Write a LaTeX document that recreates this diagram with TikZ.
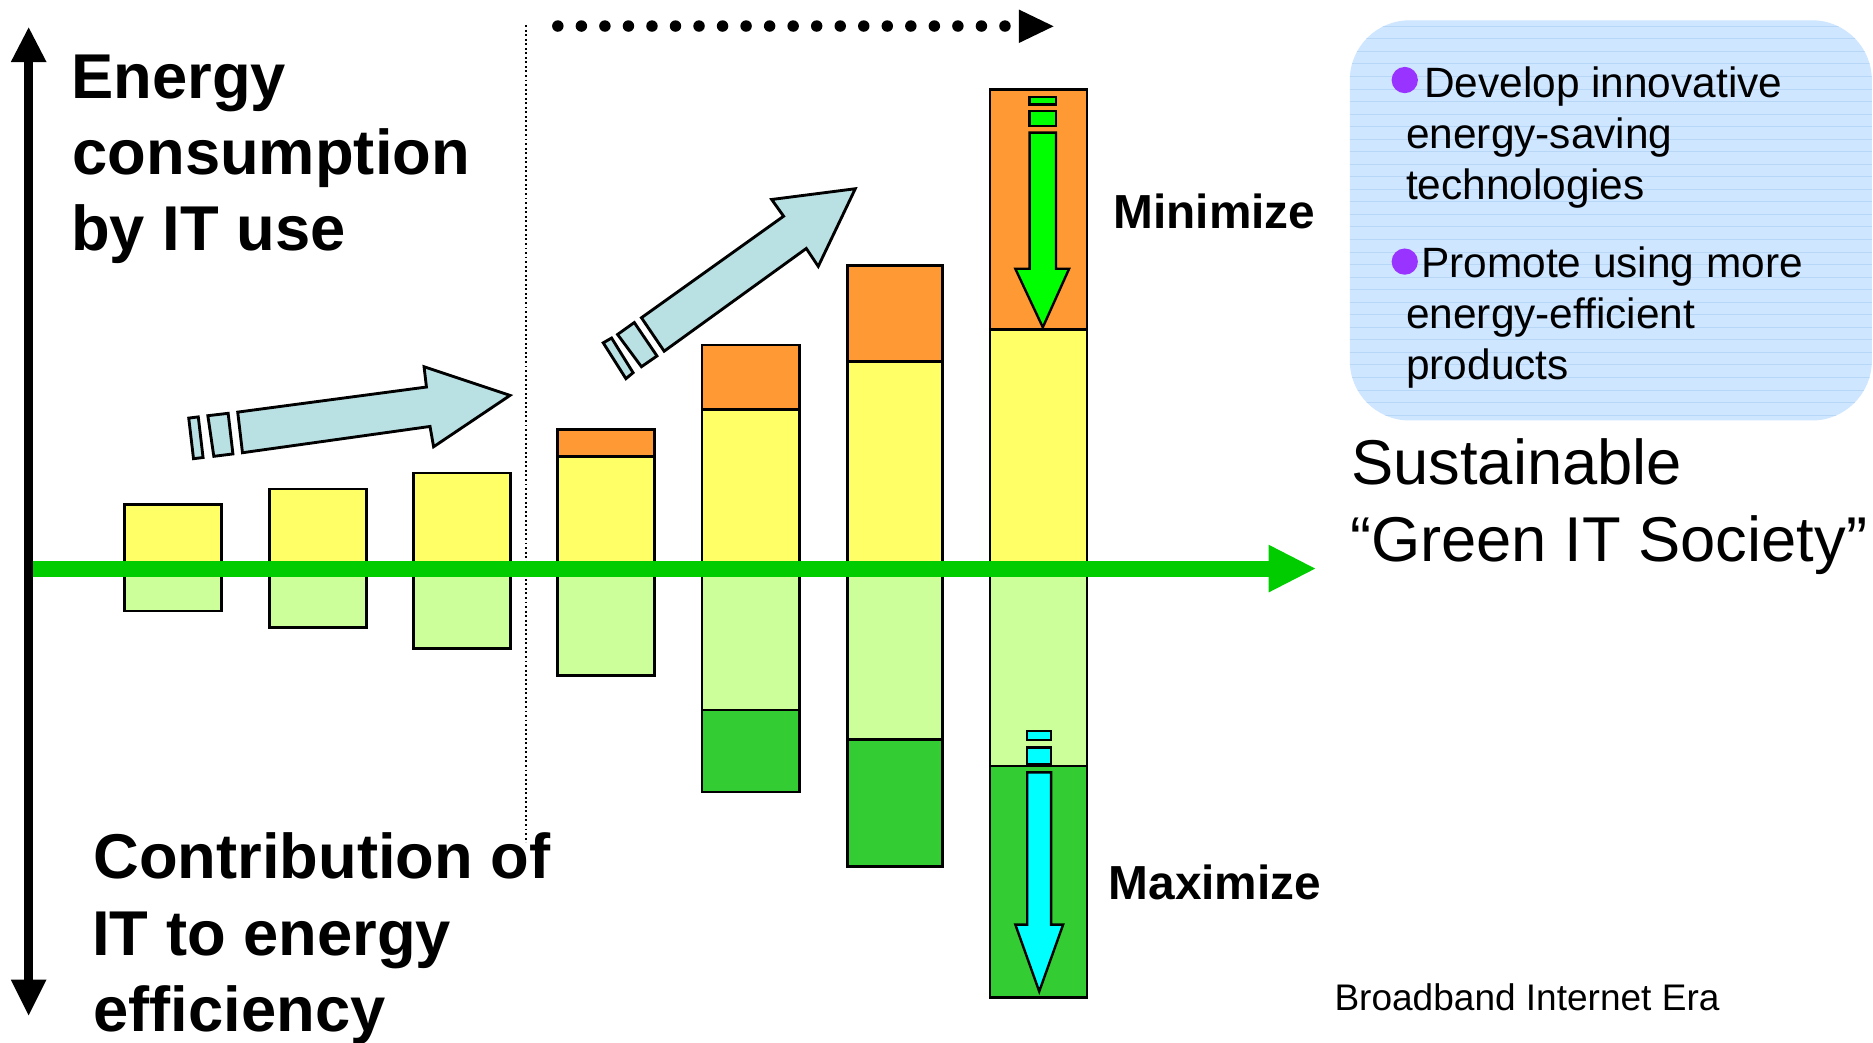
\documentclass[tikz,border=0pt]{standalone}
\usepackage{fontspec}
\setmainfont{Liberation Sans}
\definecolor{cOrange}{RGB}{255,153,51}
\definecolor{cYellow}{RGB}{255,255,102}
\definecolor{cLight}{RGB}{204,255,153}
\definecolor{cDark}{RGB}{51,204,51}
\definecolor{cAxis}{RGB}{0,204,0}
\definecolor{cArrow}{RGB}{185,224,227}
\definecolor{cGreenA}{RGB}{0,255,0}
\definecolor{cCyanA}{RGB}{0,255,255}
\definecolor{cBox}{RGB}{206,230,255}
\definecolor{cBoxLine}{RGB}{184,214,246}
\definecolor{cBullet}{RGB}{153,51,255}
\begin{document}
\begin{tikzpicture}[x=1pt,y=-1pt,
  barline/.style={draw=black,line width=2.4pt},
  blockarrow/.style={draw=black,line width=2.4pt,fill=cArrow,line join=miter},
  downarrow/.style={draw=black,line width=2pt,line join=miter},
  bigbold/.style={font=\fontsize{53}{63}\selectfont\bfseries,inner sep=0pt,anchor=base west},
  bigreg/.style={font=\fontsize{53}{63}\selectfont,inner sep=0pt,anchor=base west},
  midbold/.style={font=\fontsize{40}{48}\selectfont\bfseries,inner sep=0pt,anchor=base west},
  boxtext/.style={font=\fontsize{35.5}{42}\selectfont,inner sep=0pt,anchor=base west},
  smalltext/.style={font=\fontsize{31}{37}\selectfont,inner sep=0pt,anchor=base west}]
\useasboundingbox (0,0) rectangle (1568,873);
\fill[white] (0,0) rectangle (1568,873);

% right rounded box with line texture
\fill[cBox,rounded corners=50pt] (1130,17) rectangle (1567,352);
\begin{scope}
  \clip[rounded corners=50pt] (1130,17) rectangle (1567,352);
  \foreach \yy in {22,32.5,...,352} \draw[cBoxLine,line width=0.8pt] (1130,\yy) -- (1568,\yy);
\end{scope}

% bars
\filldraw[barline,fill=cYellow] (104.4,422) rectangle (185.7,476);
\filldraw[barline,fill=cLight] (104.4,476) rectangle (185.7,511.5);
\filldraw[barline,fill=cYellow] (225.9,409.4) rectangle (306.7,476);
\filldraw[barline,fill=cLight] (225.9,476) rectangle (306.7,525.2);
\filldraw[barline,fill=cYellow] (346.3,396) rectangle (427.1,476);
\filldraw[barline,fill=cLight] (346.3,476) rectangle (427.1,542.8);
\filldraw[barline,fill=cOrange] (466.8,359.2) rectangle (547.6,382.3);
\filldraw[barline,fill=cYellow] (466.8,382.3) rectangle (547.6,476);
\filldraw[barline,fill=cLight] (466.8,476) rectangle (547.6,565.4);
\filldraw[barline,fill=cOrange] (587.7,288.8) rectangle (669,342.7);
\filldraw[barline,fill=cYellow] (587.7,342.7) rectangle (669,476);
\filldraw[barline,fill=cLight] (587.7,476) rectangle (669,594.4);
\filldraw[barline,fill=cDark] (587.7,594.4) rectangle (669,663);
\filldraw[barline,fill=cOrange] (709.2,222.4) rectangle (789,302.8);
\filldraw[barline,fill=cYellow] (709.2,302.8) rectangle (789,476);
\filldraw[barline,fill=cLight] (709.2,476) rectangle (789,619);
\filldraw[barline,fill=cDark] (709.2,619) rectangle (789,725.6);
\filldraw[barline,fill=cOrange] (828.8,74.8) rectangle (910,275.7);
\filldraw[barline,fill=cYellow] (828.8,275.7) rectangle (910,476);
\filldraw[barline,fill=cLight] (828.8,476) rectangle (910,641.3);
\filldraw[barline,fill=cDark] (828.8,641.3) rectangle (910,835);

% green down arrow (Minimize)
\filldraw[downarrow,fill=cGreenA] (862,81) rectangle (884,87.5);
\filldraw[downarrow,fill=cGreenA] (862,93) rectangle (884,105.5);
\filldraw[downarrow,fill=cGreenA] (862,111) -- (884,111) -- (884,225) -- (895,225) -- (873,274) -- (850,225) -- (862,225) -- cycle;

% cyan down arrow (Maximize)
\filldraw[downarrow,fill=cCyanA] (860,612) rectangle (880,619.5);
\filldraw[downarrow,fill=cCyanA] (860,625.7) rectangle (880,639.6);
\filldraw[downarrow,fill=cCyanA] (860,646.6) -- (880,646.6) -- (880,774) -- (890,774) -- (870,830) -- (850,774) -- (860,774) -- cycle;

% dotted vertical separator
\draw[line width=1.2pt,dash pattern=on 1.6pt off 2.2pt] (440.5,21) -- (440.5,705);

% light blue block arrows
\filldraw[blockarrow] (158,350) -- (166,349) -- (170,383) -- (162,384) -- cycle;
\filldraw[blockarrow] (174,348) -- (191,346) -- (195,380) -- (179,382) -- cycle;
\filldraw[blockarrow] (199,345) -- (357,324) -- (355,307) -- (427,331) -- (363,374) -- (360,357) -- (203,379) -- cycle;
\filldraw[blockarrow] (505,287) -- (512,283) -- (530,312) -- (524,317) -- cycle;
\filldraw[blockarrow] (517,280) -- (531,270) -- (550,298) -- (537,307) -- cycle;
\filldraw[blockarrow] (537,266) -- (656,181) -- (646,167) -- (716,158) -- (685,223) -- (675,208) -- (556,294) -- cycle;

% green horizontal axis
\draw[cAxis,line width=13.5pt] (28,476) -- (1064,476);
\fill[cAxis] (1062,456) -- (1101,476) -- (1062,496) -- cycle;

% black vertical axis
\draw[black,line width=7pt] (24,50) -- (24,822);
\fill[black] (9,52) -- (24,23) -- (39,52) -- cycle;
\fill[black] (9,820) -- (24,850) -- (39,820) -- cycle;

% top dotted arrow
\foreach \k in {0,...,19} \fill[black] (467+19.7*\k,21.8) circle (4.8pt);
\fill[black] (853,8) -- (882,22) -- (853,36) -- cycle;

% texts
\node[bigbold] (t1) at (59.5,82.3) {Energy};
\node[bigbold] (t2) at (60.5,145.7) {consumption};
\node[bigbold] (t3) at (59.5,210) {by IT use};
\node[bigbold] (t4) at (78,735.3) {Contribution of};
\node[bigbold] (t5) at (77,799.5) {IT to energy};
\node[bigbold] (t6) at (78,863.7) {efficiency};
\node[midbold] (mini) at (932,191) {Minimize};
\node[midbold] (maxi) at (928,753) {Maximize};
\node[bigreg] (s1) at (1131,406) {Sustainable};
\node[bigreg] (s2) at (1130,470) {“Green IT Society”};
\node[smalltext] (era) at (1117,846) {Broadband Internet Era};

\fill[cBullet] (1176,67) circle (11pt);
\fill[cBullet] (1176,219) circle (11pt);
\node[boxtext] (b1) at (1192,81.5) {Develop innovative};
\node[boxtext] (b2) at (1177,124.2) {energy-saving};
\node[boxtext] (b3) at (1177,167.4) {technologies};
\node[boxtext] (b4) at (1189.5,232.2) {Promote using more};
\node[boxtext] (b5) at (1177,274.9) {energy-efficient};
\node[boxtext] (b6) at (1177,317.6) {products};
\end{tikzpicture}
\end{document}
